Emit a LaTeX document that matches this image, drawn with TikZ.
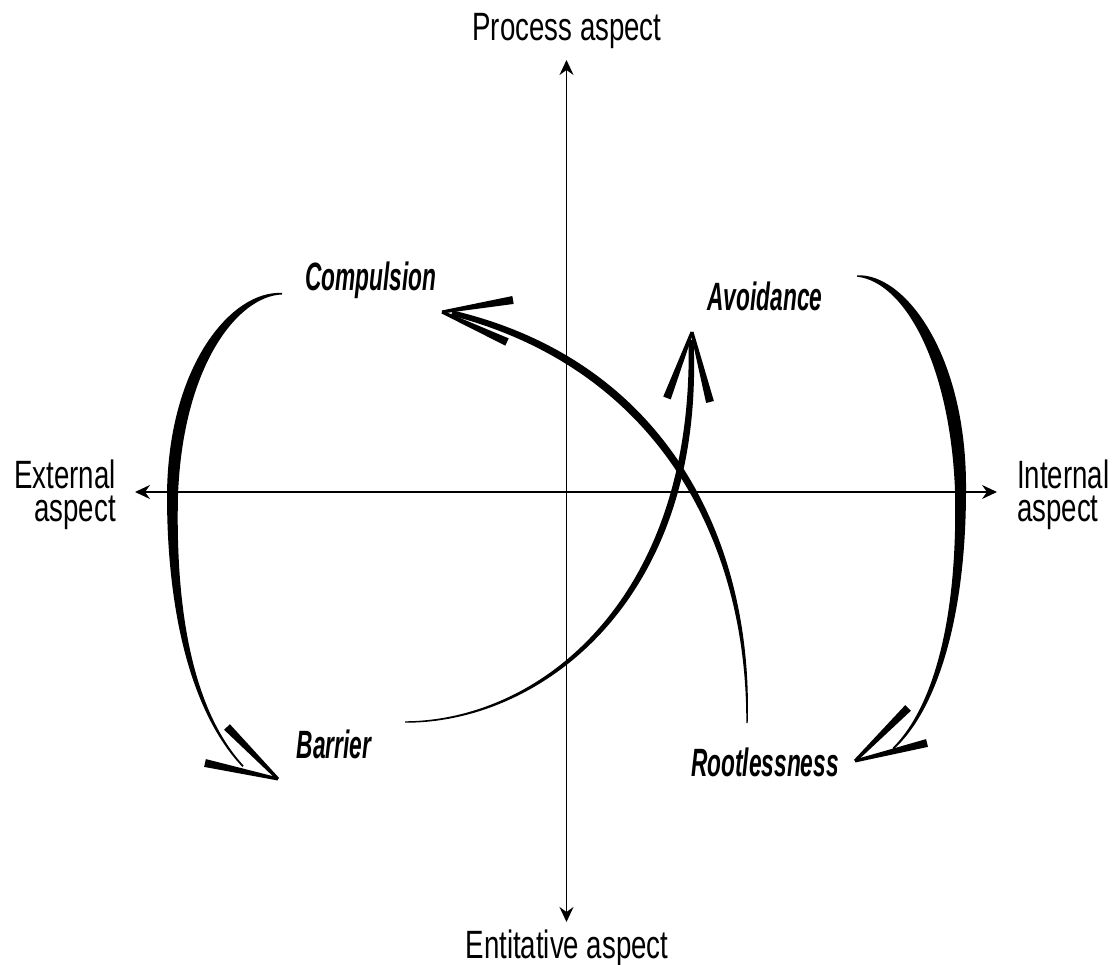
\documentclass[tikz,border=0pt]{standalone}
\usepackage{fontspec}
\newfontfamily\axisfont{Liberation Sans}[FakeStretch=0.70]
\newfontfamily\stagefont{Liberation Sans}[FakeStretch=0.575]
\usetikzlibrary{arrows.meta,calc}

\begin{document}
\begin{tikzpicture}[
  x=1pt, y=-1pt,
  axislbl/.style={font=\axisfont\fontsize{39.5}{33}\selectfont, inner sep=0pt},
  stagelbl/.style={font=\stagefont\bfseries\itshape\fontsize{39.5}{30}\selectfont,
    inner sep=0pt, anchor=base},
  axis/.style={{Stealth[length=15pt,width=14pt,inset=5pt]}-{Stealth[length=15pt,width=14pt,inset=5pt]},
    line width=1.6pt},
  stroke/.style={fill=black}
]
\useasboundingbox (0,0) rectangle (1117,965);

\coordinate (ptop) at (566.5,60);
\coordinate (pbot) at (566.5,922);
\coordinate (pleft) at (135,492);
\coordinate (pright) at (997,492);
\draw[axis] (pbot) -- (ptop);
\draw[axis] (pleft) -- (pright);

\node[axislbl, anchor=base] (proc) at (567,41) {Process aspect};
\node[axislbl, anchor=base] (enti) at (567,958) {Entitative aspect};
\node[axislbl, align=right, anchor=north east] (ext) at (116,460) {External\\aspect};
\node[axislbl, align=left, anchor=north west] (int) at (1017,460) {Internal\\aspect};

\node[stagelbl] (comp) at (371,291) {Compulsion};
\node[stagelbl] (avoid) at (765,311) {Avoidance};
\node[stagelbl] (barr) at (334,758) {Barrier};
\node[stagelbl] (root) at (765,776) {Rootlessness};

% shafts
\fill[stroke] (282,293) .. controls (232,290) and (168,365) .. (167,495)
  .. controls (167,620) and (194,716) .. (242.5,767)
  -- (243.5,765.5) .. controls (196,714) and (175,620) .. (178,495)
  .. controls (183,365) and (238,296) .. (282,294.5) -- cycle;
\fill[stroke] (857,275.3) .. controls (905,273) and (967,355) .. (966,490)
  .. controls (966,620) and (936,711) .. (893.5,749.5)
  -- (892.5,748) .. controls (933,708) and (958,620) .. (955,490)
  .. controls (950,365) and (905,282) .. (857,276.7) -- cycle;
\fill[stroke] (747.7,723) .. controls (753,539) and (666,361) .. (453,310.5)
  -- (451,315.5) .. controls (658,369) and (747,541) .. (746.3,723) -- cycle;
\fill[stroke] (405,722.7) .. controls (540.4,723.4) and (705.4,600.8) .. (693.5,340)
  -- (688.5,340) .. controls (694.6,599.2) and (539.6,720.6) .. (405,721.3) -- cycle;

% heads
\coordinate (bar-tip) at (278,779);
\coordinate (bar-a) at (227,727);
\coordinate (bar-b) at (205,763);
\coordinate (root-tip) at (855,761);
\coordinate (root-a) at (908,708);
\coordinate (root-b) at (927,743);
\coordinate (comp-tip) at (442,312);
\coordinate (comp-a) at (513,300);
\coordinate (comp-b) at (507,342);
\coordinate (avoid-tip) at (692,332);
\coordinate (avoid-a) at (667,398);
\coordinate (avoid-b) at (710,402);
\foreach \e/\t in {bar-a/bar-tip, bar-b/bar-tip, root-a/root-tip, root-b/root-tip,
    comp-a/comp-tip, comp-b/comp-tip, avoid-a/avoid-tip, avoid-b/avoid-tip}
  \fill[stroke] ($(\e)!4pt!90:(\t)$) -- ($(\t)!1.5pt!-90:(\e)$)
    -- ($(\t)!1.5pt!90:(\e)$) -- ($(\e)!4pt!-90:(\t)$) -- cycle;
\end{tikzpicture}
\end{document}
